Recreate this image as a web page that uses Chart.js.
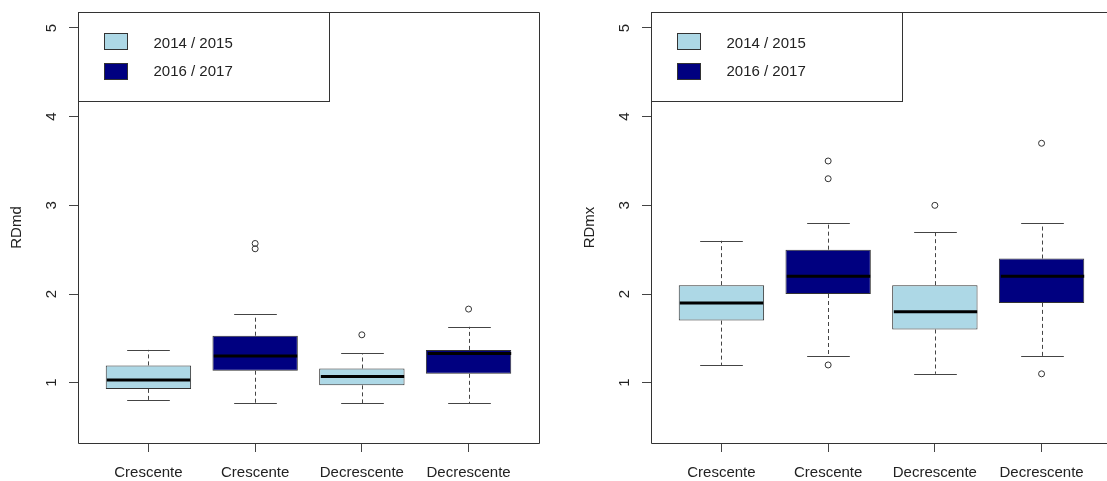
<!DOCTYPE html>
<html>
<head>
<meta charset="utf-8">
<script src="https://cdn.jsdelivr.net/npm/chart.js@4.4.1/dist/chart.umd.min.js"></script>
<style>
  html, body { margin: 0; overflow: hidden; background: #fff; width: 1107px; height: 481px; }
  .panel { position: absolute; top: 0; height: 481px; overflow: hidden; }
  canvas { display: block; }
</style>
</head>
<body>
<div class="panel" style="left:0px; width:560px"><canvas id="leftChart" width="560" height="481" style="width:560px;height:481px"></canvas></div>
<div class="panel" style="left:573px; width:534px"><canvas id="rightChart" width="560" height="481" style="width:560px;height:481px"></canvas></div>
<script>
// groups on the x axis
const categories = ["Crescente", "Crescente", "Decrescente", "Decrescente"];
const seasons = ["2014 / 2015", "2016 / 2017"];
const groupSeason = [0, 1, 0, 1];
const yTicks = [1, 2, 3, 4, 5];

// RDmd (left panel)
const rdmdMin = [0.80, 0.77, 0.77, 0.77];
const rdmdQ1 = [0.93, 1.135, 0.97, 1.10];
const rdmdMedian = [1.03, 1.30, 1.07, 1.33];
const rdmdQ3 = [1.195, 1.53, 1.16, 1.37];
const rdmdMax = [1.37, 1.77, 1.33, 1.63];
const rdmdOutliers = [[], [2.51, 2.57], [1.54], [1.83]];

// RDmx (right panel)
const rdmxMin = [1.2, 1.3, 1.1, 1.3];
const rdmxQ1 = [1.7, 2.0, 1.6, 1.9];
const rdmxMedian = [1.9, 2.2, 1.8, 2.2];
const rdmxQ3 = [2.1, 2.5, 2.1, 2.4];
const rdmxMax = [2.6, 2.8, 2.7, 2.8];
const rdmxOutliers = [[], [3.5, 3.3, 1.2], [3.0], [3.7, 1.1]];

const seasonColors = ["#add8e6", "#000080"];
const lineColor = "#333";

Chart.defaults.font.family = "'Liberation Sans', Arial, sans-serif";
Chart.defaults.font.size = 15;
Chart.defaults.color = "#222";

function makeBoxplot(id, title, mins, q1s, meds, q3s, maxs, outliers) {
  const boxPlugin = {
    id: "boxParts",
    afterDatasetsDraw(chart) {
      const ctx = chart.ctx;
      const x = chart.scales.x;
      const y = chart.scales.y;
      const stapleHalf = x.getPixelForValue(1.2) - x.getPixelForValue(1);
      const boxHalf = x.getPixelForValue(1.4) - x.getPixelForValue(1);
      ctx.save();
      categories.forEach((c, i) => {
        const cx = Math.round(x.getPixelForValue(i + 1)) + 0.5;
        ctx.strokeStyle = "#444";
        // whiskers
        ctx.lineWidth = 1;
        ctx.setLineDash([4, 3]);
        ctx.beginPath();
        ctx.moveTo(cx, y.getPixelForValue(q3s[i]));
        ctx.lineTo(cx, y.getPixelForValue(maxs[i]));
        ctx.moveTo(cx, y.getPixelForValue(q1s[i]));
        ctx.lineTo(cx, y.getPixelForValue(mins[i]));
        ctx.stroke();
        // staples
        ctx.setLineDash([]);
        ctx.beginPath();
        [maxs[i], mins[i]].forEach((v) => {
          const py = Math.round(y.getPixelForValue(v)) + 0.5;
          ctx.moveTo(cx - stapleHalf, py);
          ctx.lineTo(cx + stapleHalf, py);
        });
        ctx.stroke();
        // median
        ctx.strokeStyle = "#000";
        ctx.lineWidth = 3;
        ctx.beginPath();
        const my = y.getPixelForValue(meds[i]);
        ctx.moveTo(cx - boxHalf + 1, my);
        ctx.lineTo(cx + boxHalf - 1, my);
        ctx.stroke();
      });
      ctx.restore();
    },
    afterDraw(chart) {
      const ctx = chart.ctx;
      const a = chart.chartArea;
      const y = chart.scales.y;
      ctx.save();
      // frame; the right side is left out when it falls outside the window
      const offLeft = chart.canvas.getBoundingClientRect().left;
      const L = a.left + 0.5, R = a.right + 0.5, T = a.top + 0.5, B = a.bottom + 0.5;
      ctx.strokeStyle = lineColor;
      ctx.lineWidth = 1;
      ctx.beginPath();
      ctx.moveTo(R, T);
      ctx.lineTo(L, T);
      ctx.lineTo(L, B);
      ctx.lineTo(R, B);
      if (offLeft + a.right < window.innerWidth) ctx.lineTo(R, T);
      ctx.stroke();
      // y tick labels, parallel to the axis
      ctx.fillStyle = "#222";
      ctx.font = "15px 'Liberation Sans', Arial, sans-serif";
      ctx.textAlign = "center";
      ctx.textBaseline = "middle";
      yTicks.forEach((t) => {
        ctx.save();
        ctx.translate(a.left - 26, y.getPixelForValue(t));
        ctx.rotate(-Math.PI / 2);
        ctx.fillText(String(t), 0, 0);
        ctx.restore();
      });
      // legend (topleft)
      const lx = a.left + 0.5, ly = a.top + 0.5;
      ctx.fillStyle = "#fff";
      ctx.fillRect(lx, ly, 251, 89);
      ctx.strokeRect(lx, ly, 251, 89);
      ctx.textAlign = "left";
      seasons.forEach((s, k) => {
        ctx.fillStyle = seasonColors[k];
        ctx.fillRect(lx + 26, ly + 21 + k * 30, 23, 16);
        ctx.strokeRect(lx + 26, ly + 21 + k * 30, 23, 16);
        ctx.fillStyle = "#222";
        ctx.fillText(s, lx + 75, ly + 31.5 + k * 28);
      });
      ctx.restore();
    }
  };

  const outlierPoints = [];
  outliers.forEach((list, i) => list.forEach((v) => outlierPoints.push({ x: i + 1, y: v })));

  return new Chart(document.getElementById(id), {
    type: "bar",
    data: {
      datasets: [
        {
          type: "bar",
          data: categories.map((c, i) => ({ x: i + 1, y: [q1s[i], q3s[i]] })),
          backgroundColor: groupSeason.map((s) => seasonColors[s]),
          borderColor: lineColor,
          borderWidth: 1,
          borderSkipped: false,
          categoryPercentage: 0.8,
          barPercentage: 1.0,
        },
        {
          type: "scatter",
          data: outlierPoints,
          pointRadius: 3,
          pointBorderWidth: 1,
          pointBorderColor: lineColor,
          pointBackgroundColor: "rgba(0,0,0,0)",
        },
      ],
    },
    options: {
      responsive: false,
      animation: false,
      layout: { padding: { top: 12, right: 21, left: 0, bottom: 0 } },
      plugins: { legend: { display: false }, tooltip: { enabled: false } },
      scales: {
        x: {
          type: "linear",
          min: 0.34,
          max: 4.66,
          offset: false,
          afterBuildTicks: (scale) => { scale.ticks = categories.map((c, i) => ({ value: i + 1 })); },
          afterFit: (scale) => { scale.height = 38; },
          ticks: { callback: (v) => categories[v - 1], padding: 12, maxRotation: 0, autoSkip: false },
          grid: { offset: false, drawOnChartArea: false, drawTicks: true, tickLength: 9, color: "#444" },
          border: { display: false },
        },
        y: {
          min: 0.32,
          max: 5.18,
          afterBuildTicks: (scale) => { scale.ticks = yTicks.map((t) => ({ value: t })); },
          afterFit: (scale) => { scale.width = 78; },
          ticks: { display: false },
          grid: { drawOnChartArea: false, drawTicks: true, tickLength: 9, color: "#444" },
          border: { display: false },
          title: { display: true, text: title, padding: { top: 8, bottom: 0 } },
        },
      },
    },
    plugins: [boxPlugin],
  });
}

makeBoxplot("leftChart", "RDmd", rdmdMin, rdmdQ1, rdmdMedian, rdmdQ3, rdmdMax, rdmdOutliers);
makeBoxplot("rightChart", "RDmx", rdmxMin, rdmxQ1, rdmxMedian, rdmxQ3, rdmxMax, rdmxOutliers);
</script>
</body>
</html>
